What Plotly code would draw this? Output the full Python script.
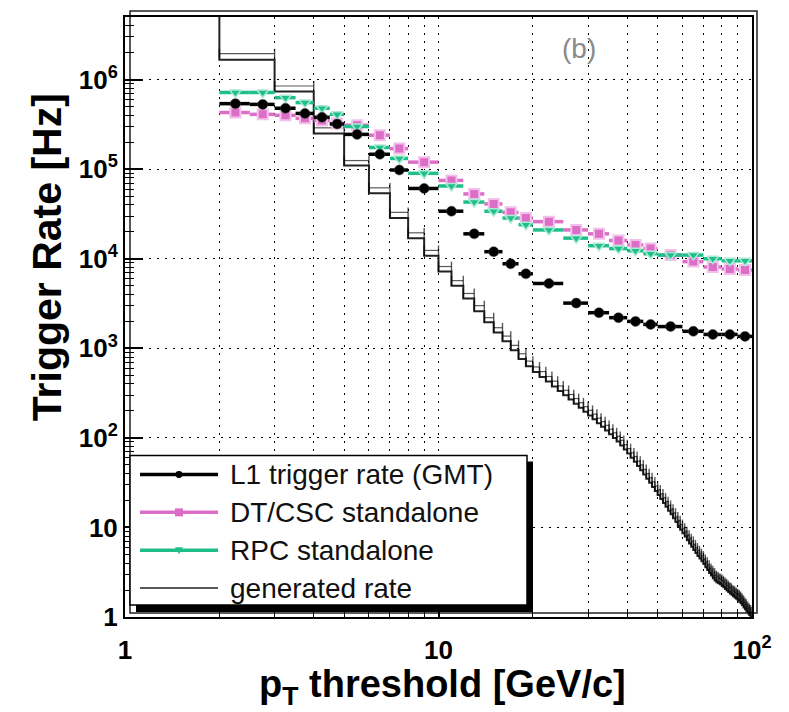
import plotly.graph_objects as go

# ---------------- data ----------------
# generated rate histogram, 1 GeV/c bins (lower bin edges)
gen_lo = list(range(1, 100))
gen_rate = [8.0e6, 1.67e6, 7.4e5, 2.5e5, 1.1e5, 5.4e4, 2.85e4, 1.7e4, 1.08e4,
            7.2e3, 5.0e3, 3.6e3, 2.6e3, 1.95e3, 1.5e3, 1.2e3, 950, 760, 630,
            545, 480, 425, 375, 335, 300, 268, 240, 217, 196,
            178, 161, 146, 133, 121, 110, 100, 91, 82, 74,
            67, 60, 54, 48.5, 43.5, 39, 35, 31.5, 28.3, 25.5,
            23, 20.8, 18.8, 17, 15.4, 14, 12.7, 11.5, 10.4, 9.4,
            8.6, 7.9, 7.2, 6.6, 6.1, 5.6, 5.2, 4.8, 4.5, 4.2,
            3.9, 3.6, 3.35, 3.1, 2.9, 2.7, 2.55, 2.45, 2.38, 2.32,
            2.25, 2.15, 2.05, 1.98, 1.9, 1.83, 1.77, 1.71, 1.65, 1.6,
            1.55, 1.48, 1.42, 1.35, 1.28, 1.22, 1.15, 1.1, 1.05, 1.0]
gen_top = 100

# generated rate drawn with bin-width error bars (lower edges 2..99)
gen_err_lo = list(range(2, 100))
gen_err_rate = [1.95e6, 8.5e5, 2.9e5, 1.25e5, 6.2e4, 3.3e4, 1.95e4, 1.24e4,
                8.2e3, 5.7e3, 4.1e3, 3.0e3, 2.2e3, 1.7e3, 1.37e3, 1.08e3, 870, 720,
                620, 550, 485, 430, 380, 340, 305, 275, 247, 223,
                203, 184, 166, 152, 138, 125, 114, 104, 94, 84,
                76, 68, 62, 55, 50, 44.5, 40, 36, 32.3, 29,
                26.2, 23.7, 21.4, 19.4, 17.6, 16, 14.5, 13.1, 11.9, 10.8,
                9.8, 9.0, 8.2, 7.5, 7.0, 6.4, 5.9, 5.5, 5.1, 4.8,
                4.4, 4.1, 3.8, 3.5, 3.3, 3.1, 2.9, 2.8, 2.7, 2.65,
                2.55, 2.45, 2.35, 2.25, 2.15, 2.1, 2.0, 1.95, 1.88, 1.82,
                1.77, 1.7, 1.62, 1.54, 1.46, 1.39, 1.31, 1.25, 1.2, 1.14]

# trigger pT threshold bins
trig_lo = [2, 2.5, 3, 3.5, 4, 4.5, 5, 6, 7, 8, 10, 12, 14, 16, 18, 20,
           25, 30, 35, 40, 45, 50, 60, 70, 80, 90]
trig_hi = [2.5, 3, 3.5, 4, 4.5, 5, 6, 7, 8, 10, 12, 14, 16, 18, 20, 25,
           30, 35, 40, 45, 50, 60, 70, 80, 90, 100]

l1_rate = [5.4e5, 5.3e5, 4.8e5, 4.2e5, 3.8e5, 3.2e5, 2.45e5, 1.47e5, 9.8e4,
           6.1e4, 3.4e4, 1.9e4, 1.2e4, 8.8e3, 6.8e3, 5.3e3, 3.2e3, 2.5e3,
           2.2e3, 2.0e3, 1.85e3, 1.75e3, 1.55e3, 1.43e3, 1.43e3, 1.36e3]
dt_rate = [4.3e5, 4.1e5, 4.0e5, 3.7e5, 3.5e5, 3.25e5, 3.1e5, 2.4e5, 1.7e5,
           1.2e5, 7.5e4, 5.3e4, 4.1e4, 3.3e4, 2.85e4, 2.6e4, 2.1e4, 1.9e4,
           1.6e4, 1.43e4, 1.3e4, 1.1e4, 9.3e3, 8.1e3, 7.7e3, 7.5e3]
rpc_rate = [7.2e5, 7.2e5, 6.3e5, 5.55e5, 4.8e5, 4.1e5, 3.0e5, 1.75e5, 1.32e5,
            9.0e4, 6.5e4, 4.3e4, 3.4e4, 2.85e4, 2.4e4, 2.1e4, 1.7e4, 1.4e4,
            1.3e4, 1.23e4, 1.14e4, 1.1e4, 1.1e4, 1.0e4, 9.5e3, 9.5e3]

legend_labels = ["L1 trigger rate (GMT)", "DT/CSC standalone",
                 "RPC standalone", "generated rate"]

x_tickvals = [1, 10, 100]
x_ticktext = ["1", "10", "10<sup>2</sup>"]
y_tickvals = [1, 10, 1e2, 1e3, 1e4, 1e5, 1e6]
y_ticktext = ["1", "10", "10<sup>2</sup>", "10<sup>3</sup>", "10<sup>4</sup>",
              "10<sup>5</sup>", "10<sup>6</sup>"]

# ---------------- styles ----------------
BLACK = "#000000"
PINK = "#dc6ec8"
GREEN = "#1fbf8c"
FONT = "Liberation Sans"

OFF = 8                      # page body margin of the browser
W, H = 789 - 2 * OFF, 712 - OFF
L, R, T, B = 125, 752, 15, 617   # plot area in page pixels


def px(x):
    return (x - L) / (R - L)


def py(y):
    return (B - y) / (B - T)


fig = go.Figure()

# generated rate step line
fig.add_trace(go.Scatter(
    x=gen_lo + [gen_top], y=gen_rate + [gen_rate[-1]],
    mode="lines", line=dict(color="#222", width=2, shape="hv"),
    showlegend=False, hoverinfo="skip"))

# generated rate bin-width bars
ex, ey = [], []
for lo, v in zip(gen_err_lo, gen_err_rate):
    ex += [lo, lo + 1, None]
    ey += [v, v, None]
fig.add_trace(go.Scatter(
    x=ex, y=ey, mode="lines+markers",
    line=dict(color="rgba(0,0,0,0.65)", width=1.2),
    marker=dict(symbol="line-ns-open", size=7, line=dict(color="#111", width=1.4)),
    showlegend=False, hoverinfo="skip"))


def add_series(vals, color, symbol, size, halo, halo_w):
    sx, sy = [], []
    for lo, hi, v in zip(trig_lo, trig_hi, vals):
        sx += [lo, hi, None]
        sy += [v, v, None]
    fig.add_trace(go.Scatter(x=sx, y=sy, mode="lines",
                             line=dict(color=color, width=3.5),
                             showlegend=False, hoverinfo="skip"))
    cx = [(lo + hi) / 2 for lo, hi in zip(trig_lo, trig_hi)]
    fig.add_trace(go.Scatter(x=cx, y=vals, mode="markers",
                             marker=dict(symbol=symbol, size=size, color=color,
                                         line=dict(color=halo, width=halo_w)),
                             showlegend=False, hoverinfo="skip"))


add_series(dt_rate, PINK, "square", 10, "#f2c0ea", 2)
add_series(rpc_rate, GREEN, "triangle-down", 10, "#aee9d4", 1.5)
add_series(l1_rate, BLACK, "circle", 10, "#444", 0.5)

grid = dict(showgrid=True, gridcolor="#000", griddash="2px,6px", gridwidth=1.3)

fig.update_xaxes(
    type="log", range=[0, 2], showline=True, linecolor="#000", linewidth=2,
    mirror=True, ticks="inside", ticklen=14, tickwidth=1.5, tickcolor="#000",
    tickvals=x_tickvals, ticktext=x_ticktext, ticklabelstandoff=9,
    tickfont=dict(family=FONT, size=26, color="#000", weight="bold"),
    zeroline=False,
    minor=dict(tickvals=[2, 3, 4, 5, 6, 7, 8, 9, 20, 30, 40, 50, 60, 70, 80, 90],
               ticks="inside", ticklen=8, tickwidth=1.2, tickcolor="#000", **grid),
    **grid)

ymin_ticks = [m * 10 ** k for k in range(0, 7) for m in range(2, 10)]
fig.update_yaxes(
    type="log", range=[0, 6.70], showline=True, linecolor="#000", linewidth=2,
    mirror=True, ticks="inside", ticklen=18, tickwidth=1.5, tickcolor="#000",
    tickvals=y_tickvals, ticktext=y_ticktext,
    tickfont=dict(family=FONT, size=26, color="#000", weight="bold"),
    zeroline=False,
    minor=dict(tickvals=ymin_ticks, ticks="inside", ticklen=9, tickwidth=1.2,
               tickcolor="#000", showgrid=False),
    **grid)

shapes = []
# offset second frame
shapes.append(dict(type="rect", xref="paper", yref="paper",
                   x0=px(L + 5), x1=px(R + 5), y0=py(B - 4), y1=py(T - 6),
                   line=dict(color="#222", width=1.5), layer="below"))
# legend shadow + box
shapes.append(dict(type="rect", xref="paper", yref="paper",
                   x0=px(136), x1=px(533), y0=py(612), y1=py(461),
                   fillcolor="#000", line=dict(width=0), layer="above"))
shapes.append(dict(type="rect", xref="paper", yref="paper",
                   x0=px(130), x1=px(527), y0=py(605), y1=py(455),
                   fillcolor="#fff", line=dict(color="#000", width=1.5), layer="above"))

rows = [474, 512, 550, 588]
lcols = [BLACK, PINK, GREEN, "#222"]
lwid = [3.5, 3.5, 3.5, 1.5]
for yy, c, w in zip(rows, lcols, lwid):
    shapes.append(dict(type="line", xref="paper", yref="paper",
                       x0=px(140), x1=px(218), y0=py(yy), y1=py(yy),
                       line=dict(color=c, width=w), layer="above"))
# legend symbols
shapes.append(dict(type="circle", xref="paper", yref="paper",
                   x0=px(175.5), x1=px(182.5), y0=py(rows[0] + 3.5), y1=py(rows[0] - 3.5),
                   fillcolor=BLACK, line=dict(width=0), layer="above"))
shapes.append(dict(type="rect", xref="paper", yref="paper",
                   x0=px(175), x1=px(183), y0=py(rows[1] + 4), y1=py(rows[1] - 4),
                   fillcolor=PINK, line=dict(width=0), layer="above"))
tri = "M {a},{b} L {c},{b} L {d},{e} Z".format(
    a=px(175), c=px(183), b=py(rows[2] - 3), d=px(179), e=py(rows[2] + 4))
shapes.append(dict(type="path", xref="paper", yref="paper", path=tri,
                   fillcolor=GREEN, line=dict(width=0), layer="above"))

annotations = []
for yy, txt in zip(rows, legend_labels):
    annotations.append(dict(x=px(228), y=py(yy), xref="paper", yref="paper",
                            text=txt, showarrow=False, xanchor="left", yanchor="middle",
                            font=dict(family=FONT, size=28, color="#111")))
annotations.append(dict(x=px(579), y=py(47), xref="paper", yref="paper",
                        text="(b)", showarrow=False, xanchor="center", yanchor="middle",
                        font=dict(family=FONT, size=28, color="#8a8a8a")))
annotations.append(dict(x=px(442), y=py(687), xref="paper", yref="paper",
                        text="p<sub>T</sub> threshold [GeV/c]", showarrow=False,
                        xanchor="center", yanchor="middle",
                        font=dict(family=FONT, size=38, color="#000", weight="bold")))
annotations.append(dict(x=px(47), y=py(256), xref="paper", yref="paper",
                        text="Trigger Rate [Hz]", showarrow=False, textangle=-90,
                        xanchor="center", yanchor="middle",
                        font=dict(family=FONT, size=41, color="#000", weight="bold")))

fig.update_layout(
    width=W, height=H,
    margin=dict(l=L - OFF, r=W + OFF - R, t=T - OFF, b=H + OFF - B),
    paper_bgcolor="#fff", plot_bgcolor="#fff",
    showlegend=False, shapes=shapes, annotations=annotations,
)

fig.write_html("out.html")
